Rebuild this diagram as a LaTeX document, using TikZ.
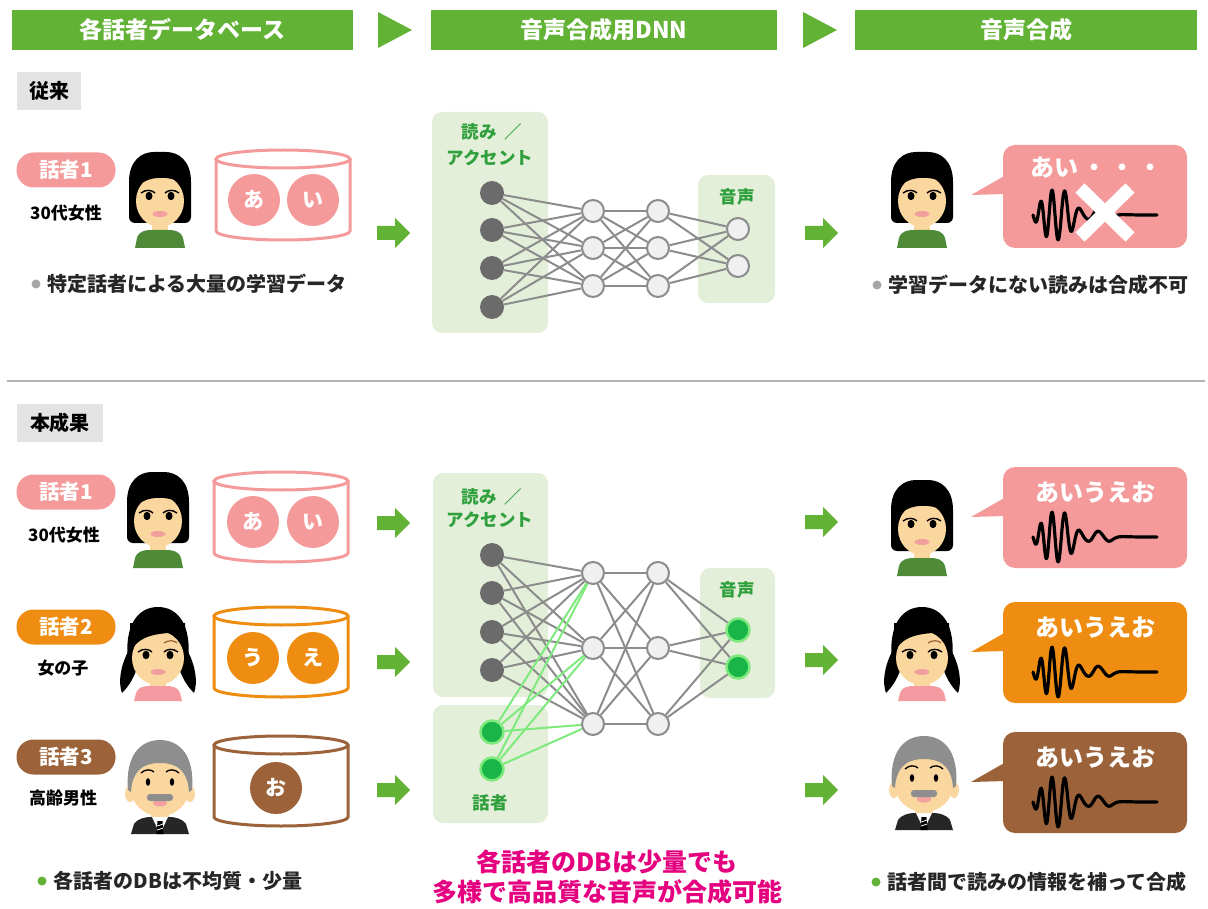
\documentclass[tikz,border=0pt]{standalone}
\usepackage{fontspec}
\setmainfont{Noto Sans CJK JP}
\usetikzlibrary{calc,positioning}

\definecolor{hdgreen}{HTML}{62B235}
\definecolor{spkpink}{HTML}{F59A9A}
\definecolor{spkorange}{HTML}{EE8D12}
\definecolor{spkbrown}{HTML}{9C633A}
\definecolor{boxgreen}{HTML}{E4EFDA}
\definecolor{lblgreen}{HTML}{2FA03C}
\definecolor{nodegray}{HTML}{6B6B6B}
\definecolor{edgegray}{HTML}{8C8C8C}
\definecolor{litegreen}{HTML}{7EEA7E}
\definecolor{spkgreen}{HTML}{19B548}
\definecolor{skin}{HTML}{FAD79E}
\definecolor{shirtgreen}{HTML}{4F8A38}
\definecolor{shirtpink}{HTML}{F49AA0}
\definecolor{hairgray}{HTML}{8E8E8E}
\definecolor{lippink}{HTML}{F2A0A0}
\definecolor{notepink}{HTML}{E5007F}

\begin{document}
\begin{tikzpicture}[
    x=1pt, y=-1pt,
    hdbar/.style={fill=hdgreen, text=white, minimum height=40pt, inner sep=0pt,
      font=\fontsize{23}{26}\selectfont\bfseries},
    tagbox/.style={fill=gray!22, minimum height=38pt, inner sep=0pt,
      font=\fontsize{20}{24}\selectfont\bfseries},
    spkpill/.style={rounded corners=17pt, minimum width=99pt, minimum height=35pt,
      inner sep=0pt, text=white, font=\fontsize{20.5}{24}\selectfont\bfseries},
    spkdesc/.style={font=\fontsize{17}{20}\selectfont\bfseries},
    kana/.style={circle, minimum size=52pt, inner sep=0pt, text=white,
      font=\fontsize{21}{24}\selectfont\bfseries},
    notetext/.style={anchor=west, text=black!85,
      font=\fontsize{20}{23}\selectfont\bfseries},
    bullet/.style={circle, minimum size=9pt, inner sep=0pt},
    lbl/.style={text=lblgreen, font=\fontsize{17.5}{21}\selectfont\bfseries},
    inp/.style={circle, fill=nodegray, minimum size=24pt, inner sep=0pt},
    hid/.style={circle, draw=edgegray, line width=2pt, fill=gray!12,
      minimum size=22pt, inner sep=0pt},
    spk/.style={circle, draw=litegreen, line width=2.5pt, fill=spkgreen,
      minimum size=23pt, inner sep=0pt},
    link/.style={edgegray, line width=2pt},
    spklink/.style={litegreen, line width=2pt},
    saytext/.style={text=white, font=\fontsize{24}{28}\selectfont\bfseries},
    % short-haired woman
    woman/.pic={
      \fill[black, rounded corners=6pt] (-31,23) -- (-31,-12) .. controls (-31,-40) and (-18,-48) .. (0,-48)
        .. controls (18,-48) and (31,-40) .. (31,-12) -- (31,23) -- cycle;
      \fill[skin] (-8,18) rectangle (8,34);
      \fill[shirtgreen] (-25,48) -- (-23,38) .. controls (-21,31) and (-14,30) .. (-8,30)
        -- (8,30) .. controls (14,30) and (21,31) .. (23,38) -- (25,48) -- cycle;
      \fill[skin] (0,1) ellipse [x radius=24, y radius=26];
      \fill[black] (-25,-10) .. controls (-18,-21) and (-4,-23) .. (6,-22)
        .. controls (15,-21) and (22,-18) .. (25,-12) -- (25,-30) -- (-25,-30) -- cycle;
      \fill[black] (-11,-4) ellipse [x radius=3.5, y radius=4.2];
      \fill[black] (11,-4) ellipse [x radius=3.5, y radius=4.2];
      \draw[line width=1.4pt] (-19,-7) .. controls (-14,-11) and (-8,-10) .. (-5,-7);
      \draw[line width=1.4pt] (19,-7) .. controls (14,-11) and (8,-10) .. (5,-7);
      \fill[lippink] (0,14) ellipse [x radius=7.5, y radius=3];
    },
    % girl with pigtails
    girl/.pic={
      \fill[black] (-26,-10) .. controls (-38,8) and (-40,28) .. (-36,38)
        .. controls (-30,32) and (-26,26) .. (-22,16) -- cycle;
      \fill[black] (26,-10) .. controls (38,8) and (40,28) .. (36,38)
        .. controls (30,32) and (26,26) .. (22,16) -- cycle;
      \fill[black] (-30,6) .. controls (-34,-30) and (-20,-48) .. (0,-48)
        .. controls (20,-48) and (34,-30) .. (30,6) -- cycle;
      \fill[skin] (-8,20) rectangle (8,34);
      \fill[shirtpink] (-24,46) -- (-22,38) .. controls (-20,32) and (-14,31) .. (-8,31)
        -- (8,31) .. controls (14,31) and (20,32) .. (22,38) -- (24,46) -- cycle;
      \fill[skin] (0,3) ellipse [x radius=26, y radius=27];
      \fill[black] (-28,-2) .. controls (-20,-20) and (0,-21) .. (10,-22)
        .. controls (18,-22) and (24,-17) .. (27,-10) -- (27,-32) -- (-28,-32) -- cycle;
      \fill[black] (-12,0) ellipse [x radius=3.5, y radius=4.2];
      \fill[black] (12,0) ellipse [x radius=3.5, y radius=4.2];
      \draw[line width=1.4pt] (-20,-3) .. controls (-15,-7) and (-9,-6) .. (-6,-3);
      \draw[line width=1.4pt] (20,-3) .. controls (15,-7) and (9,-6) .. (6,-3);
      \draw[spkbrown, line width=1.2pt] (6,-12) .. controls (10,-15) and (16,-15) .. (19,-12);
      \fill[lippink] (0,17) ellipse [x radius=7.5, y radius=3];
    },
    % elderly man in a suit
    elder/.pic={
      \fill[skin] (-9,18) rectangle (9,32);
      \fill[black!85] (-29,44) -- (-26,34) .. controls (-23,29) and (-15,27) .. (-10,27)
        -- (10,27) .. controls (15,27) and (23,29) .. (26,34) -- (29,44) -- cycle;
      \fill[white] (-8,27) -- (8,27) -- (0,44) -- cycle;
      \fill[black] (-2.5,31) -- (2.5,31) -- (3.5,44) -- (-3.5,44) -- cycle;
      \draw[white, line width=0.8pt] (-3,36) -- (3,34) (-3,40) -- (3,38);
      \fill[skin] (-30,4) ellipse [x radius=5, y radius=8];
      \fill[skin] (30,4) ellipse [x radius=5, y radius=8];
      \fill[skin] (0,-1) ellipse [x radius=29, y radius=27];
      \fill[hairgray] (-29,2) .. controls (-28,-16) and (-20,-27) .. (0,-27)
        .. controls (20,-27) and (28,-16) .. (29,2) -- (32,0)
        .. controls (35,-34) and (20,-50) .. (0,-50)
        .. controls (-20,-50) and (-35,-34) .. (-32,0) -- cycle;
      \draw[line width=1.3pt] (-19,-17) .. controls (-15,-21) and (-9,-21) .. (-6,-18);
      \draw[line width=1.3pt] (19,-17) .. controls (15,-21) and (9,-21) .. (6,-18);
      \fill[black] (-12,-8) ellipse [x radius=2.2, y radius=3.8];
      \fill[black] (12,-8) ellipse [x radius=2.2, y radius=3.8];
      \fill[lippink] (0,13) ellipse [x radius=7, y radius=3.5];
      \fill[hairgray, rounded corners=3pt] (-13,4) rectangle (13,11);
    },
    % thick green arrow
    fatarrow/.pic={
      \fill[hdgreen] (-16,-7) -- (2,-7) -- (2,-15) -- (17,0) -- (2,15) -- (2,7)
        -- (-16,7) -- cycle;
    },
    % database can, outline colour passed as draw=
    dbcan/.pic={
      \path[pic actions, fill=white, line width=3pt] (-67,-36) -- (-67,36)
        arc[start angle=180, end angle=0, x radius=67, y radius=9] -- (67,-36);
      \path[pic actions, fill=white, line width=3pt] (0,-36) ellipse [x radius=67, y radius=9];
    },
    % voice waveform
    wave/.pic={
      \draw[line width=3.2pt, line join=round, line cap=round]
        plot[domain=0:124, samples=300, smooth]
        (\x, {(25/(1+((\x-24)/17)^4) + 5/(1+((\x-68)/12)^4))*sin(36*\x - 0.15*\x*\x)});
    }
  ]
  \useasboundingbox (0,0) rectangle (1208,909);

  % column headers
  \node[hdbar, minimum width=341pt] (hdDB) at (182.5,30) {各話者データベース};
  \node[hdbar, minimum width=346pt] (hdDNN) at (604,30) {音声合成用DNN};
  \node[hdbar, minimum width=342pt] (hdSyn) at (1026,30) {音声合成};
  \fill[hdgreen] (378,12) -- (412,30) -- (378,48) -- cycle;
  \fill[hdgreen] (803,12) -- (837,30) -- (803,48) -- cycle;

  %%%% conventional
  \node[tagbox, minimum width=64pt] (tagOld) at (49,91) {従来};

  \node[spkpill, fill=spkpink] (oSpk) at (66,170) {話者1};
  \node[spkdesc] (oDesc) at (66,213) {30代女性};
  \pic at (160,200) {woman};
  \pic[draw=spkpink] at (283,195) {dbcan};
  \node[kana, fill=spkpink] (oA) at (254,200) {あ};
  \node[kana, fill=spkpink] (oI) at (313,200) {い};
  \node[bullet, fill=gray!70] (oDotL) at (36,284) {};
  \node[notetext] (oNoteL) at (44,284) {特定話者による大量の学習データ};
  \pic at (393,233) {fatarrow};

  % network
  \fill[boxgreen, rounded corners=10pt] (432,112) rectangle (548,333);
  \fill[boxgreen, rounded corners=10pt] (698,175) rectangle (775,303);
  \node[lbl] (oRead) at (492,132) {読み\hspace{8pt}／};
  \node[lbl] (oAcc) at (490,158) {アクセント};
  \node[lbl] (oVoice) at (737,197) {音声};
  \foreach \i/\y in {1/193,2/230,3/268,4/307}
    \node[inp] (oin\i) at (492,\y) {};
  \foreach \i/\y in {1/211,2/248,3/286} {
    \node[hid] (oh\i) at (593,\y) {};
    \node[hid] (og\i) at (658,\y) {};
  }
  \node[hid] (oo1) at (738,229) {};
  \node[hid] (oo2) at (738,266) {};
  \foreach \i in {1,...,4}
    \foreach \j in {1,2,3}
      \draw[link] (oin\i) -- (oh\j);
  \foreach \i in {1,2,3}
    \foreach \j in {1,2,3}
      \draw[link] (oh\i) -- (og\j);
  \foreach \i in {1,2,3}
    \foreach \j in {1,2}
      \draw[link] (og\i) -- (oo\j);

  % synthesis fails
  \pic at (821,233) {fatarrow};
  \pic at (922,200) {woman};
  \fill[spkpink] (1006,175) -- (971,195) -- (1006,194) -- cycle;
  \fill[spkpink, rounded corners=12pt] (1003,145) rectangle (1187,248);
  \node[saytext, anchor=west] (oSay) at (1027,168) {あい\hspace{4pt}・\hspace{4pt}・\hspace{4pt}・};
  \pic at (1033,215) {wave};
  \draw[white, line width=13pt] (1080,188) -- (1130,237) (1080,237) -- (1130,188);
  \node[bullet, fill=gray!70] (oDotR) at (877,285) {};
  \node[notetext] (oNoteR) at (885,285) {学習データにない読みは合成不可};

  \draw[gray!60, line width=1.5pt] (7,381) -- (1205,381);

  %%%% proposed
  \node[tagbox, minimum width=86pt] (tagNew) at (60,423) {本成果};

  \node[spkpill, fill=spkpink] (nSpk1) at (66,492) {話者1};
  \node[spkdesc] (nDesc1) at (64,535) {30代女性};
  \pic at (158,520) {woman};
  \pic[draw=spkpink] at (281,517) {dbcan};
  \node[kana, fill=spkpink] (nA) at (253,522) {あ};
  \node[kana, fill=spkpink] (nI) at (313,522) {い};
  \pic at (393,523) {fatarrow};

  \node[spkpill, fill=spkorange] (nSpk2) at (66,627) {話者2};
  \node[spkdesc] (nDesc2) at (63,668) {女の子};
  \pic at (158,655) {girl};
  \pic[draw=spkorange] at (281,652) {dbcan};
  \node[kana, fill=spkorange] (nU) at (253,658) {う};
  \node[kana, fill=spkorange] (nE) at (313,658) {え};
  \pic at (393,662) {fatarrow};

  \node[spkpill, fill=spkbrown] (nSpk3) at (66,757) {話者3};
  \node[spkdesc] (nDesc3) at (63,798) {高齢男性};
  \pic at (160,790) {elder};
  \pic[draw=spkbrown] at (281,781) {dbcan};
  \node[kana, fill=spkbrown] (nO) at (276,788) {お};
  \pic at (393,790) {fatarrow};

  \node[bullet, fill=hdgreen] (nDotL) at (42,881) {};
  \node[notetext] (nNoteL) at (50,881) {各話者のDBは不均質・少量};

  % network with speaker input
  \fill[boxgreen, rounded corners=10pt] (433,473) rectangle (548,697);
  \fill[boxgreen, rounded corners=10pt] (433,705) rectangle (548,823);
  \fill[boxgreen, rounded corners=10pt] (700,568) rectangle (775,698);
  \node[lbl] (nRead) at (492,497) {読み\hspace{8pt}／};
  \node[lbl] (nAcc) at (490,520) {アクセント};
  \node[lbl] (nWho) at (490,803) {話者};
  \node[lbl] (nVoice) at (737,590) {音声};
  \foreach \i/\y in {1/555,2/593,3/632,4/670}
    \node[inp] (nin\i) at (492,\y) {};
  \node[spk] (nsp1) at (492,732) {};
  \node[spk] (nsp2) at (492,769) {};
  \foreach \i/\y in {1/573,2/648,3/724} {
    \node[hid] (nh\i) at (593,\y) {};
    \node[hid] (ng\i) at (658,\y) {};
  }
  \node[spk] (no1) at (738,630) {};
  \node[spk] (no2) at (738,667) {};
  \foreach \i in {1,...,4}
    \foreach \j in {1,2,3}
      \draw[link] (nin\i) -- (nh\j);
  \foreach \i in {1,2}
    \foreach \j in {1,2,3}
      \draw[spklink] (nsp\i) -- (nh\j);
  \foreach \i in {1,2,3}
    \foreach \j in {1,2,3}
      \draw[link] (nh\i) -- (ng\j);
  \foreach \i in {1,2,3}
    \foreach \j in {1,2}
      \draw[link] (ng\i) -- (no\j);

  \node[text=notepink, align=center, font=\fontsize{25}{30}\selectfont\bfseries]
    (nResult) at (607,877) {各話者のDBは少量でも\\多様で高品質な音声が合成可能};

  % synthesised voices
  \foreach \row/\top/\col in {1/467/spkpink, 2/602/spkorange, 3/732/spkbrown} {
    \fill[\col] (1006,\top+30) -- (971,\top+50) -- (1006,\top+49) -- cycle;
    \fill[\col, rounded corners=12pt] (1003,\top) rectangle (1187,\top+101);
    \node[saytext] (nSay\row) at (1095,\top+25) {あいうえお};
    \pic at (1033,\top+70) {wave};
  }
  \pic at (821,522) {fatarrow};
  \pic at (821,660) {fatarrow};
  \pic at (821,790) {fatarrow};
  \pic at (922,528) {woman};
  \pic at (922,655) {girl};
  \pic at (924,786) {elder};

  \node[bullet, fill=hdgreen] (nDotR) at (876,882) {};
  \node[notetext] (nNoteR) at (884,882) {話者間で読みの情報を補って合成};
\end{tikzpicture}
\end{document}
